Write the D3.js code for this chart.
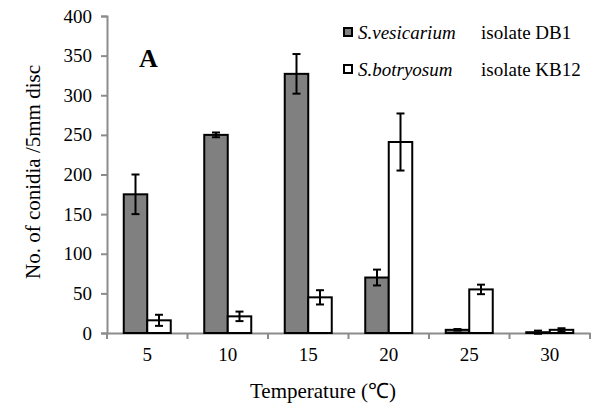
<!DOCTYPE html>
<html>
<head>
<meta charset="utf-8">
<script src="https://cdn.jsdelivr.net/npm/d3@7"></script>
</head>
<body style="margin:0">
<script>
// chart data
var temps = ["5", "10", "15", "20", "25", "30"];
var seriesNames = ["S.vesicarium", "S.botryosum"];
var seriesTags = ["isolate DB1", "isolate KB12"];
var vesicarium = [175, 250, 327, 70, 4, 1];
var vesicariumErr = [25, 3, 25, 10, 1, 2];
var botryosum = [16, 21, 45, 241, 55, 4];
var botryosumErr = [7, 6, 9, 36, 6, 2];
var yTicks = [0, 50, 100, 150, 200, 250, 300, 350, 400];

var serif = "'Liberation Serif'";

var svgWidth = 600, svgHeight = 408;
var margin = { top: 16, right: 10, bottom: 75, left: 107 };
var chartWidth = 590 - margin.left;
var chartHeight = 333 - margin.top;

var svg = d3.select("body").append("svg")
  .attr("width", svgWidth)
  .attr("height", svgHeight);

var chartGroup = svg.append("g")
  .attr("transform", `translate(${margin.left}, ${margin.top})`);

var xScale = d3.scaleBand().domain(temps).range([0, chartWidth]);
var yScale = d3.scaleLinear().domain([0, 400]).range([chartHeight, 0]);
var barW = 23.5;

// axes
var yAxis = chartGroup.append("g")
  .call(d3.axisLeft(yScale).tickValues(yTicks).tickSize(6).tickPadding(9));
var xAxis = chartGroup.append("g")
  .attr("transform", `translate(0, ${chartHeight})`)
  .call(d3.axisBottom(xScale).tickSize(0).tickPadding(15));

// category boundary ticks like excel
chartGroup.append("g").selectAll("line")
  .data(temps.concat(["end"]))
  .enter().append("line")
  .attr("x1", (d, i) => i * xScale.bandwidth())
  .attr("x2", (d, i) => i * xScale.bandwidth())
  .attr("y1", chartHeight)
  .attr("y2", chartHeight + 6)
  .attr("stroke", "#8c8c8c")
  .attr("stroke-width", 2);

[yAxis, xAxis].forEach(function(ax) {
  ax.attr("font-family", null).attr("font-size", null);
  ax.select(".domain").attr("stroke", "#8c8c8c").attr("stroke-width", 2);
  ax.selectAll(".tick line").attr("stroke", "#8c8c8c").attr("stroke-width", 2);
  ax.selectAll(".tick text").attr("fill", "#000")
    .style("font-family", serif).style("font-size", "19px");
});

var series = [
  { vals: vesicarium, errs: vesicariumErr, fill: "#808080", off: -barW },
  { vals: botryosum, errs: botryosumErr, fill: "#ffffff", off: 0 }
];

series.forEach(function(s) {
  var g = chartGroup.append("g");
  g.selectAll("rect")
    .data(s.vals)
    .enter().append("rect")
    .attr("x", (d, i) => xScale(temps[i]) + xScale.bandwidth() / 2 + s.off)
    .attr("y", d => yScale(d))
    .attr("width", barW)
    .attr("height", d => chartHeight - yScale(d))
    .attr("fill", s.fill)
    .attr("stroke", "#000")
    .attr("stroke-width", 2);

  var eg = g.selectAll(".err")
    .data(s.vals)
    .enter().append("g");
  var cx = (d, i) => xScale(temps[i]) + xScale.bandwidth() / 2 + s.off + barW / 2;
  eg.append("line")
    .attr("x1", cx).attr("x2", cx)
    .attr("y1", (d, i) => yScale(d + s.errs[i]))
    .attr("y2", (d, i) => yScale(d - s.errs[i]))
    .attr("stroke", "#000").attr("stroke-width", 2);
  [1, -1].forEach(function(sign) {
    eg.append("line")
      .attr("x1", (d, i) => cx(d, i) - 4)
      .attr("x2", (d, i) => cx(d, i) + 4)
      .attr("y1", (d, i) => yScale(d + sign * s.errs[i]))
      .attr("y2", (d, i) => yScale(d + sign * s.errs[i]))
      .attr("stroke", "#000").attr("stroke-width", 2);
  });
});

// panel letter
svg.append("text")
  .attr("x", 139).attr("y", 67)
  .style("font-family", serif).style("font-size", "26px")
  .attr("font-weight", "bold")
  .text("A");

// legend
var legend = svg.append("g");
series.forEach(function(s, i) {
  var y = 33 + i * 37;
  legend.append("rect")
    .attr("x", 344).attr("y", y - 5)
    .attr("width", 8).attr("height", 8)
    .attr("fill", s.fill).attr("stroke", "#000").attr("stroke-width", 2);
  legend.append("text")
    .attr("x", 358).attr("y", y + 6)
    .style("font-family", serif).style("font-size", "19px")
    .attr("font-style", "italic")
    .text(seriesNames[i]);
  legend.append("text")
    .attr("x", 481).attr("y", y + 6)
    .style("font-family", serif).style("font-size", "19px")
    .text(seriesTags[i]);
});

// axis titles
svg.append("text")
  .attr("transform", "translate(40, 172) rotate(-90)")
  .attr("text-anchor", "middle")
  .style("font-family", serif).style("font-size", "21px")
  .text("No. of conidia /5mm disc");

svg.append("text")
  .attr("x", 323).attr("y", 398)
  .attr("text-anchor", "middle")
  .style("font-family", serif).style("font-size", "21px")
  .text("Temperature (℃)");
</script>
</body>
</html>
